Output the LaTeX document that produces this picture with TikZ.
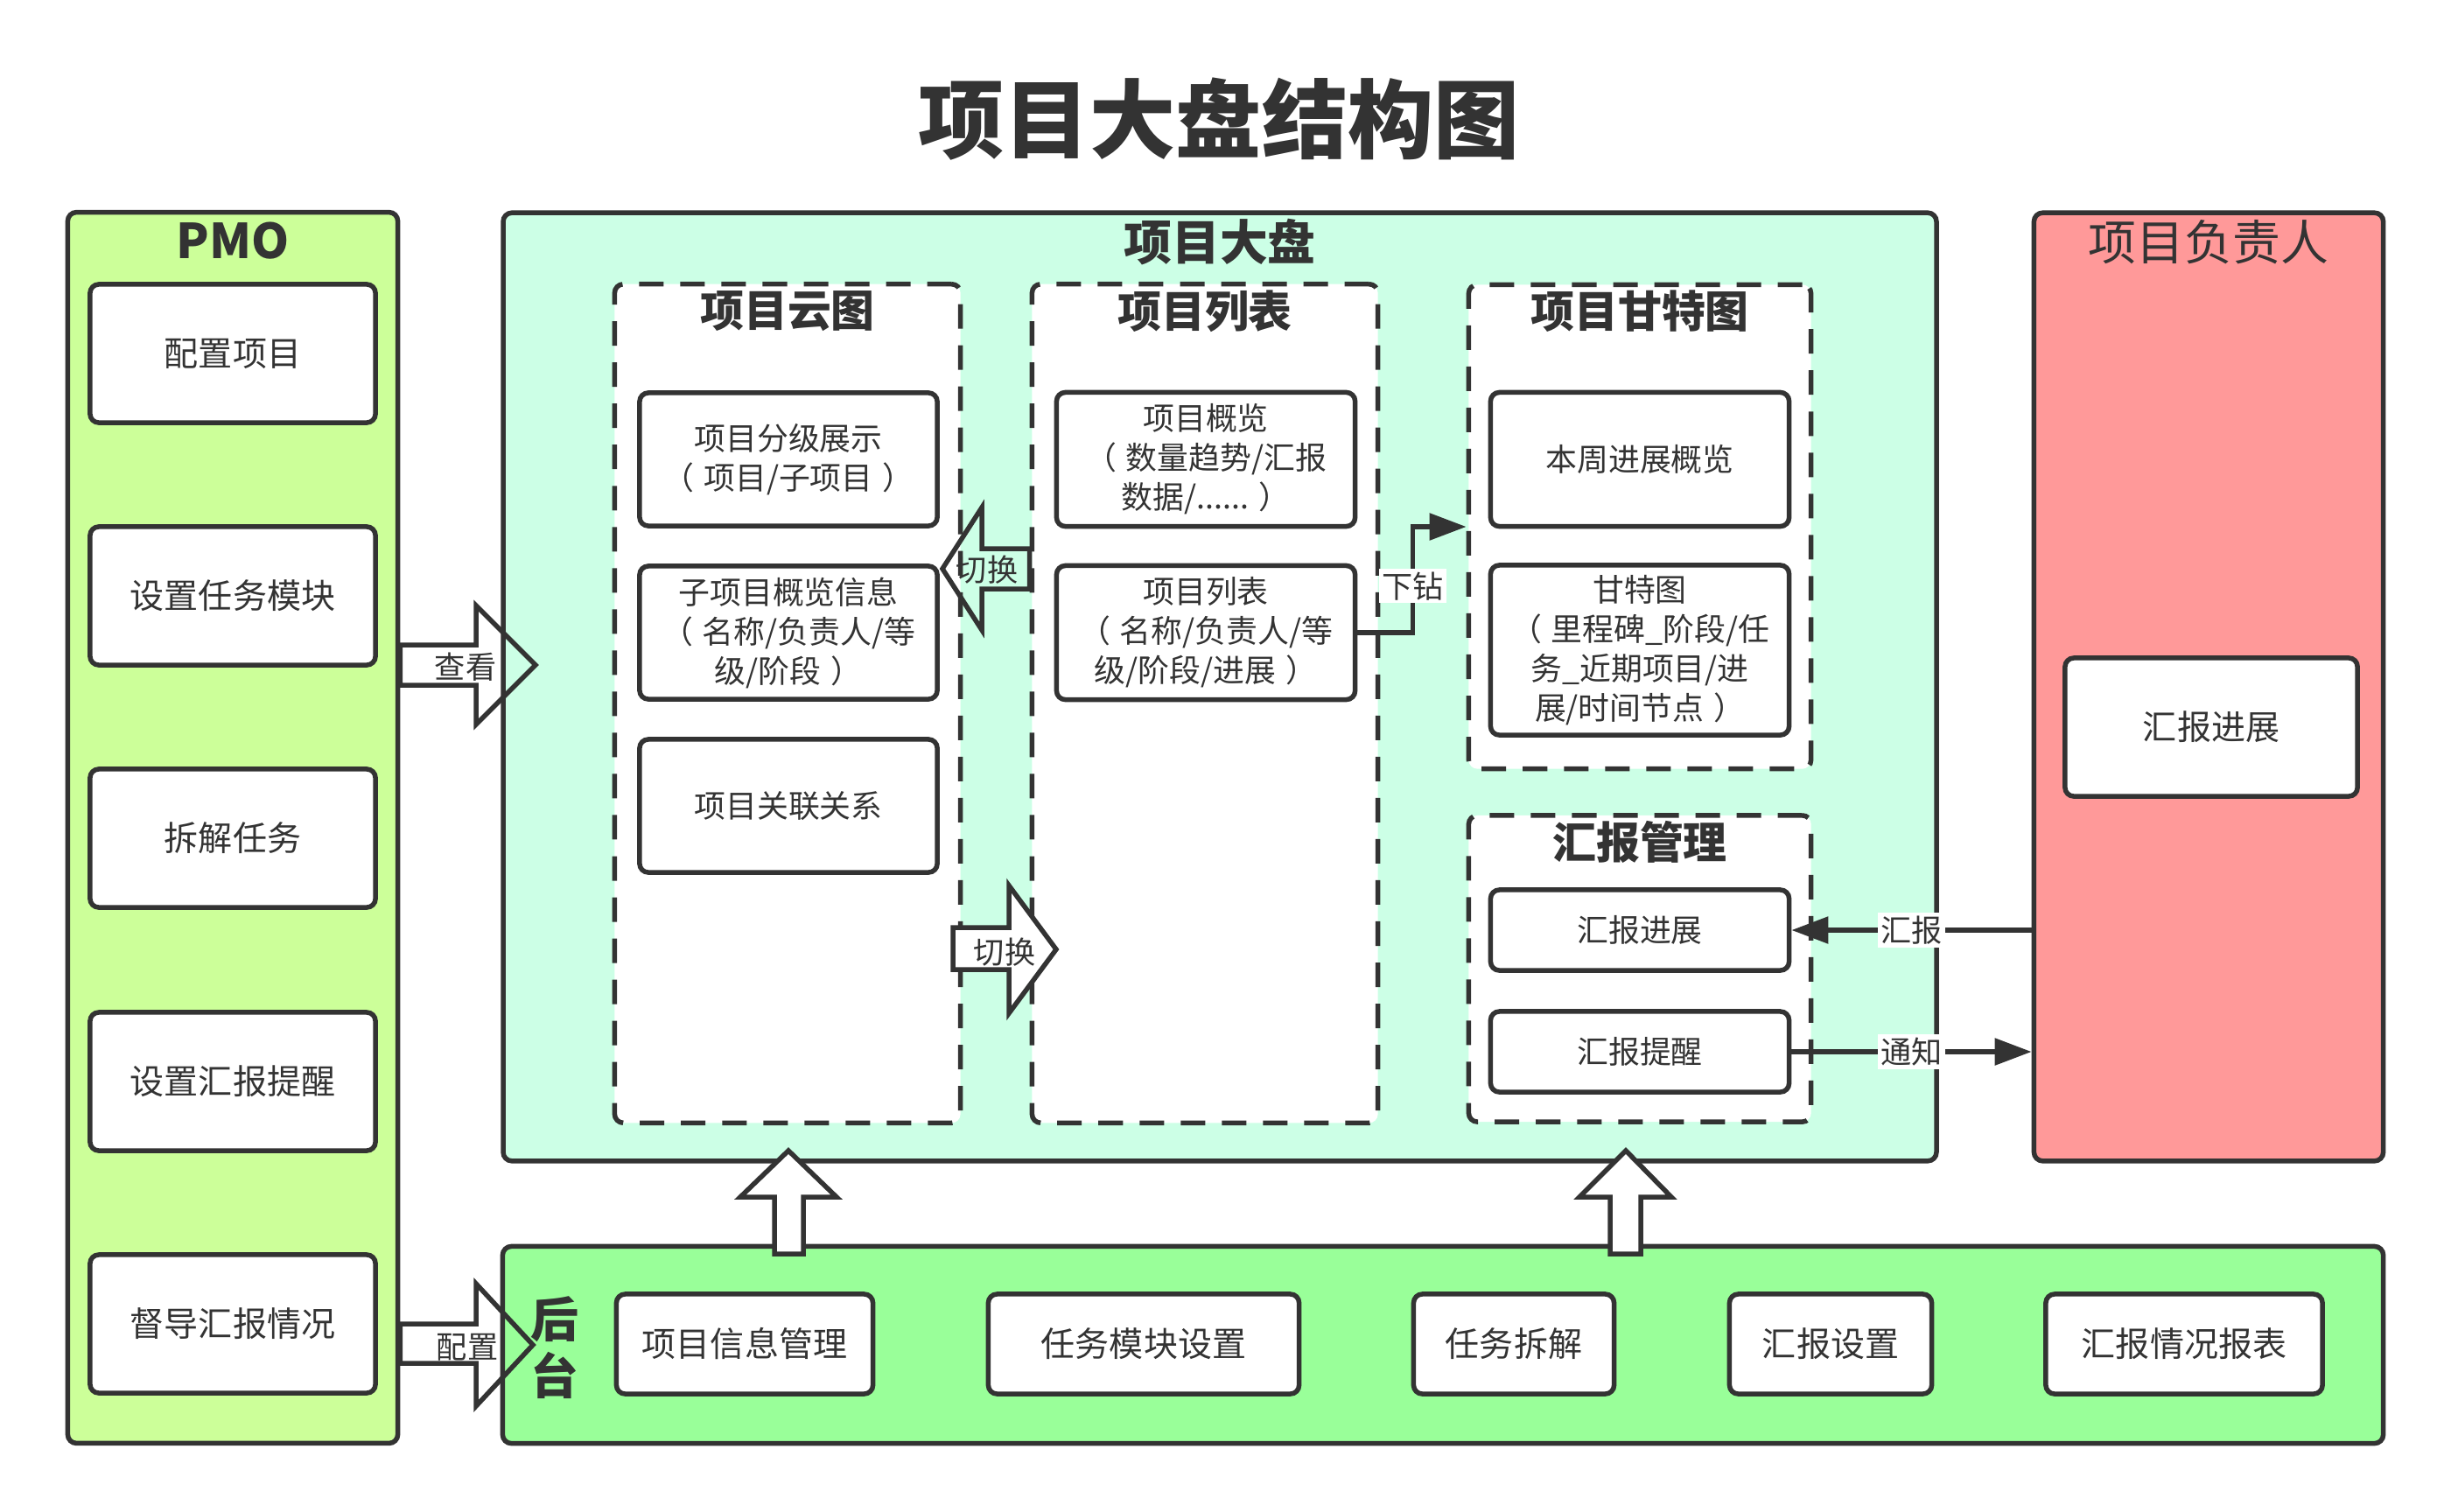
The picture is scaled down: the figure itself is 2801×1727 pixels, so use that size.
\documentclass[tikz,border=0pt]{standalone}
\usepackage{fontspec}
\setmainfont{Noto Sans CJK SC}
\usepackage{xcolor}
\usetikzlibrary{arrows.meta}

\definecolor{linegray}{HTML}{333333}
\definecolor{pmogreen}{HTML}{CCFF99}
\definecolor{boardmint}{HTML}{CCFFE6}
\definecolor{ownerred}{HTML}{FF9999}
\definecolor{backgreen}{HTML}{99FF99}

\newcommand{\lpar}{（\hspace{0.3em}}
\newcommand{\rpar}{\hspace{0.3em}）}

\tikzset{
	panel/.style={draw=linegray, line width=0.055cm, rounded corners=0.1cm, inner sep=0pt},
	card/.style={panel, fill=white, align=center, text=linegray, font=\fontsize{11.1}{13}\selectfont},
	subcard/.style={card, font=\fontsize{10.2}{12.8}\selectfont},
	dashbox/.style={panel, fill=white, dash pattern=on 0.28cm off 0.19cm},
	paneltitle/.style={text=linegray, font=\fontsize{15.6}{18}\selectfont},
	boldtitle/.style={text=linegray, font=\bfseries\fontsize{15.6}{18.5}\selectfont},
	subtitle/.style={text=linegray, font=\bfseries\fontsize{14.2}{17}\selectfont},
	lbl/.style={text=linegray, font=\fontsize{10}{12}\selectfont, inner sep=1pt},
	blockarrow/.style={draw=linegray, line width=0.055cm},
	conn/.style={draw=linegray, line width=0.055cm, -{Triangle[length=0.42cm,width=0.3cm]}}
}

\begin{document}
\begin{tikzpicture}[x=0.01cm, y=-0.01cm]
			\useasboundingbox (0,0) rectangle (2801,1727);
			\node[text=linegray, font=\bfseries\fontsize{27.9}{33}\selectfont] (title) at (1393,136) {项目大盘结构图};

			% PMO
			\node[panel, fill=pmogreen, minimum width=3.77cm, minimum height=14.06cm] (pmo) at (266,946) {};
			\node[boldtitle] (pmotitle) at (266,275) {PMO};
			\node[card, minimum width=3.26cm, minimum height=1.58cm] (cfg) at (266,404) {配置项目};
			\node[card, minimum width=3.26cm, minimum height=1.58cm] (modcfg) at (266,681) {设置任务模块};
			\node[card, minimum width=3.26cm, minimum height=1.58cm] (split) at (266,958) {拆解任务};
			\node[card, minimum width=3.26cm, minimum height=1.58cm] (remind) at (266,1236) {设置汇报提醒};
			\node[card, minimum width=3.26cm, minimum height=1.58cm] (watch) at (266,1513) {督导汇报情况};

			% project board
			\node[panel, fill=boardmint, minimum width=16.37cm, minimum height=10.83cm] (board) at (1394,785) {};
			\node[boldtitle] (boardtitle) at (1394,277) {项目大盘};

			\node[dashbox, minimum width=3.95cm, minimum height=9.58cm] (cloud) at (900,804) {};
			\node[subtitle] (cloudtitle) at (900,356) {项目云图};
			\node[subcard, minimum width=3.40cm, minimum height=1.52cm] (cloud1) at (901,525) {项目分级展示\\\lpar 项目/子项目\rpar};
			\node[subcard, minimum width=3.40cm, minimum height=1.52cm] (cloud2) at (901,723) {子项目概览信息\\\lpar 名称/负责人/等\\级/阶段\rpar};
			\node[subcard, minimum width=3.40cm, minimum height=1.52cm] (cloud3) at (901,921) {项目关联关系};

			\node[dashbox, minimum width=3.95cm, minimum height=9.58cm] (list) at (1377,804) {};
			\node[subtitle] (listtitle) at (1377,356) {项目列表};
			\node[subcard, minimum width=3.41cm, minimum height=1.53cm] (list1) at (1378,525) {项目概览\\\lpar 数量趋势/汇报\\数据/......\rpar};
			\node[subcard, minimum width=3.41cm, minimum height=1.53cm] (list2) at (1378,723) {项目列表\\\lpar 名称/负责人/等\\级/阶段/进展\rpar};

			\node[dashbox, minimum width=3.91cm, minimum height=5.53cm] (gantt) at (1874,602) {};
			\node[subtitle] (gantttitle) at (1874,356) {项目甘特图};
			\node[subcard, minimum width=3.41cm, minimum height=1.53cm] (gantt1) at (1874,525) {本周进展概览};
			\node[subcard, minimum width=3.41cm, minimum height=1.94cm] (gantt2) at (1874,743) {甘特图\\\lpar 里程碑\_阶段/任\\务\_近期项目/进\\展/时间节点\rpar};

			\node[dashbox, minimum width=3.91cm, minimum height=3.50cm] (report) at (1874,1107) {};
			\node[subtitle] (reporttitle) at (1874,962) {汇报管理};
			\node[subcard, minimum width=3.41cm, minimum height=0.92cm] (report1) at (1874,1063) {汇报进展};
			\node[subcard, minimum width=3.41cm, minimum height=0.92cm] (report2) at (1874,1202) {汇报提醒};

			% owner
			\node[panel, fill=ownerred, minimum width=3.99cm, minimum height=10.83cm] (owner) at (2524,785) {};
			\node[paneltitle] (ownertitle) at (2524,277) {项目负责人};
			\node[card, minimum width=3.34cm, minimum height=1.58cm] (ownercard) at (2527,831) {汇报进展};

			% backend
			\node[panel, fill=backgreen, minimum width=21.48cm, minimum height=2.25cm] (backend) at (1649,1537) {};
			\node[boldtitle, align=center, font=\bfseries\fontsize{15.6}{18.5}\selectfont] (backtitle) at (634,1540) {后\\台};
			\node[card, minimum width=2.93cm, minimum height=1.14cm] (info) at (851,1536) {项目信息管理};
			\node[card, minimum width=3.55cm, minimum height=1.14cm] (modset) at (1307,1536) {任务模块设置};
			\node[card, minimum width=2.29cm, minimum height=1.14cm] (taskset) at (1730,1536) {任务拆解};
			\node[card, minimum width=2.31cm, minimum height=1.14cm] (repset) at (2092,1536) {汇报设置};
			\node[card, minimum width=3.16cm, minimum height=1.14cm] (repsheet) at (2496,1536) {汇报情况报表};

			% block arrows
			\draw[blockarrow] (pmo.east |- 0,737) -- (544,737) -- (544,692) -- (612,760) -- (544,828) -- (544,783) -- (pmo.east |- 0,783) -- cycle;
			\node[lbl] at (532,762) {查看};
			\draw[blockarrow] (pmo.east |- 0,1513) -- (544,1513) -- (544,1467) -- (609,1537) -- (544,1607) -- (544,1558) -- (pmo.east |- 0,1558) -- cycle;
			\node[lbl] at (534,1540) {配置};
			\draw[blockarrow] (list.west |- 0,627) -- (1122,627) -- (1122,580) -- (1077,650) -- (1122,720) -- (1122,673) -- (list.west |- 0,673) -- cycle;
			\node[lbl] at (1128,651) {切换};
			\draw[blockarrow, fill=white] (1089,1060) -- (1153,1060) -- (1153,1012) -- (1207,1085) -- (1153,1158) -- (1153,1108) -- (1089,1108) -- cycle;
			\node[lbl] at (1148,1088) {切换};
			\draw[blockarrow, fill=white] (885,1433) -- (885,1368) -- (846,1368) -- (901,1315) -- (956,1368) -- (918,1368) -- (918,1433) -- cycle;
			\draw[blockarrow, fill=white] (1840,1433) -- (1840,1368) -- (1805,1368) -- (1858,1315) -- (1910,1368) -- (1875,1368) -- (1875,1433) -- cycle;

			% connectors
			\draw[conn] (list2.east) -- ++(63,0) |- (gantt.west) node[lbl, fill=white, pos=0.22] {下钻};
			\draw[conn] (owner.west |- report1.east) -- (report1.east) node[lbl, fill=white, midway] {汇报};
			\draw[conn] (report2.east) -- (owner.west |- report2.east) node[lbl, fill=white, midway] {通知};
		\end{tikzpicture}
\end{document}
